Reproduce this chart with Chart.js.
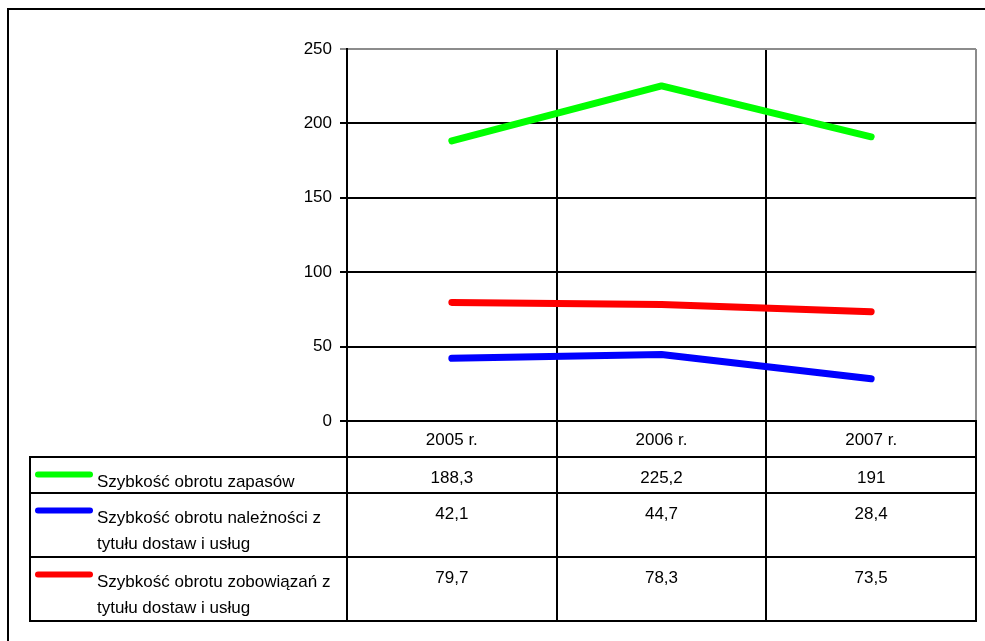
<!DOCTYPE html>
<html>
<head>
<meta charset="utf-8">
<script src="https://cdn.jsdelivr.net/npm/chart.js@4/dist/chart.umd.min.js"></script>
<style>
  html, body { margin: 0; padding: 0; background: #fff; }
  #wrap { width: 985px; height: 641px; position: relative; }
</style>
</head>
<body>
<div id="wrap"><canvas id="c" width="985" height="641"></canvas></div>
<script>
// Categories (years)
const years = ['2005 r.', '2006 r.', '2007 r.'];
// Series values
const zapasy = [188.3, 225.2, 191];
const naleznosci = [42.1, 44.7, 28.4];
const zobowiazania = [79.7, 78.3, 73.5];
// Series names (wrapped as in the table)
const nameZapasy = ['Szybkość obrotu zapasów'];
const nameNaleznosci = ['Szybkość obrotu należności z', 'tytułu dostaw i usług'];
const nameZobowiazania = ['Szybkość obrotu zobowiązań z', 'tytułu dostaw i usług'];
// Value axis
const yMin = 0, yMax = 250, yStep = 50;

const FONT_FAMILY = '"Liberation Sans", Arial, sans-serif';
const FONT = '17px ' + FONT_FAMILY;

const series = [
  { names: nameZapasy, values: zapasy, color: '#00ff00' },
  { names: nameNaleznosci, values: naleznosci, color: '#0000ff' },
  { names: nameZobowiazania, values: zobowiazania, color: '#ff0000' }
];

const fmt = v => String(v).replace('.', ',');

// Data table under the plot plus the outer frame
const dataTable = {
  id: 'dataTable',
  afterDraw(chart) {
    const ctx = chart.ctx;
    const x = chart.scales.x;
    const area = chart.chartArea;
    const n = years.length;
    const colW = (x.right - x.left) / n;
    const top = Math.round(area.bottom);
    const rowH = [36, 36, 64, 64];
    const rowTop = [top];
    for (let i = 0; i < rowH.length; i++) rowTop.push(rowTop[i] + rowH[i]);
    const bottom = rowTop[rowH.length];
    const tableLeft = 30;
    const right = Math.round(x.right);

    ctx.save();
    ctx.strokeStyle = '#000';
    ctx.lineWidth = 2;
    ctx.lineCap = 'butt';
    // horizontal rules
    for (let r = 1; r <= rowH.length; r++) {
      ctx.beginPath();
      ctx.moveTo(tableLeft - 1, rowTop[r]);
      ctx.lineTo(right + 1, rowTop[r]);
      ctx.stroke();
    }
    // left edge of the table
    ctx.beginPath();
    ctx.moveTo(tableLeft, rowTop[1]);
    ctx.lineTo(tableLeft, bottom);
    ctx.stroke();
    // column separators
    for (let c = 0; c <= n; c++) {
      const px = Math.round(x.left + c * colW);
      ctx.beginPath();
      ctx.moveTo(px, top);
      ctx.lineTo(px, bottom);
      ctx.stroke();
    }

    ctx.fillStyle = '#000';
    ctx.font = FONT;
    ctx.textBaseline = 'alphabetic';
    ctx.textAlign = 'center';
    // header
    years.forEach((y, i) => {
      ctx.fillText(y, x.getPixelForValue(i), rowTop[0] + 24);
    });
    // series rows
    series.forEach((s, r) => {
      const t = rowTop[r + 1];
      ctx.textAlign = 'center';
      ctx.fillStyle = '#000';
      s.values.forEach((v, i) => {
        ctx.fillText(fmt(v), x.getPixelForValue(i), t + 26);
      });
      // legend key
      ctx.strokeStyle = s.color;
      ctx.lineWidth = 6;
      ctx.lineCap = 'round';
      ctx.beginPath();
      ctx.moveTo(38, t + 17.5);
      ctx.lineTo(90, t + 17.5);
      ctx.stroke();
      ctx.textAlign = 'left';
      s.names.forEach((line, k) => {
        ctx.fillText(line, 97, t + 30 + k * 26);
      });
    });

    // outer frame
    ctx.strokeStyle = '#000';
    ctx.lineWidth = 2;
    ctx.lineCap = 'butt';
    ctx.beginPath();
    ctx.moveTo(8, chart.height + 2);
    ctx.lineTo(8, 9);
    ctx.lineTo(chart.width + 2, 9);
    ctx.stroke();
    ctx.restore();
  }
};

new Chart(document.getElementById('c'), {
  type: 'line',
  data: {
    labels: years,
    datasets: series.map(s => ({
      label: s.names.join(' '),
      data: s.values,
      borderColor: s.color,
      backgroundColor: s.color,
      fill: false
    }))
  },
  options: {
    responsive: false,
    animation: false,
    layout: { padding: { left: 267, top: 49, right: 9, bottom: 220 } },
    plugins: { legend: { display: false }, tooltip: { enabled: false } },
    elements: {
      point: { radius: 0, hoverRadius: 0 },
      line: { borderWidth: 7, borderCapStyle: 'round', borderJoinStyle: 'round', tension: 0 }
    },
    scales: {
      x: {
        offset: true,
        grid: {
          offset: true,
          drawTicks: false,
          lineWidth: 2,
          color: c => (c.type === 'tick' ? '#000' : '#8c8c8c')
        },
        border: { display: true, color: '#000', width: 2 },
        ticks: { display: false },
        afterFit: s => { s.height = 0; }
      },
      y: {
        min: yMin,
        max: yMax,
        ticks: {
          stepSize: yStep,
          color: '#000',
          padding: 8,
          font: { family: FONT_FAMILY, size: 17 }
        },
        grid: {
          lineWidth: 2,
          tickLength: 7,
          color: c => (c.tick && c.tick.value === yMax ? '#8c8c8c' : '#000')
        },
        border: { color: '#000', width: 2 },
        afterFit: s => { s.width = 80; }
      }
    }
  },
  plugins: [dataTable]
});
</script>
</body>
</html>
